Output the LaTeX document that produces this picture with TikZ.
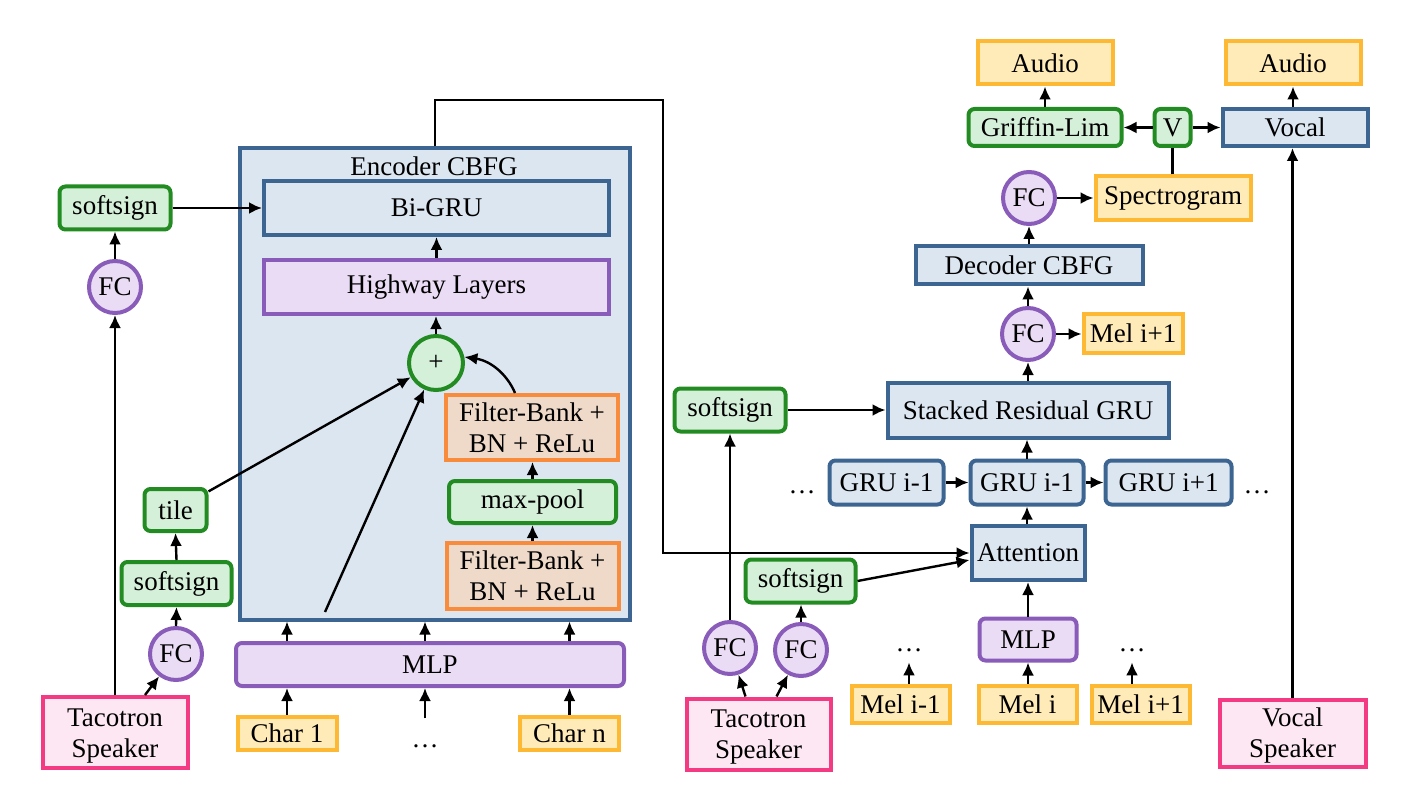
\documentclass[tikz,border=0pt]{standalone}
\usepackage{fontspec}
\setmainfont{Liberation Serif}
\usetikzlibrary{arrows.meta,calc}
\newcommand\diafont{\fontsize{27}{32}\selectfont}
\newcommand\twol[2]{\raisebox{-3pt}[\height][\depth]{\begin{tabular}{@{}c@{}}#1\\[-1pt]#2\end{tabular}}}
\definecolor{cblue}{HTML}{3C6591}
\definecolor{fblue}{HTML}{DCE6F1}
\definecolor{cgreen}{HTML}{228B22}
\definecolor{fgreen}{HTML}{D5F0D9}
\definecolor{cpurple}{HTML}{8A5CBA}
\definecolor{fpurple}{HTML}{EADCF4}
\definecolor{corange}{HTML}{F98B3C}
\definecolor{forange}{HTML}{EFDACA}
\definecolor{cyellow}{HTML}{FDB934}
\definecolor{fyellow}{HTML}{FFEBB8}
\definecolor{cpink}{HTML}{F33A82}
\definecolor{fpink}{HTML}{FDE7F3}
\tikzset{
  base/.style={draw, line width=4pt, inner sep=0pt, font=\diafont, align=center, text=black},
  bluebox/.style={base, draw=cblue, fill=fblue},
  bluer/.style={bluebox, rounded corners=6pt},
  greenbox/.style={base, draw=cgreen, fill=fgreen, rounded corners=6pt},
  purplebox/.style={base, draw=cpurple, fill=fpurple, rounded corners=6pt},
  purplesq/.style={base, draw=cpurple, fill=fpurple},
  fcc/.style={base, circle, draw=cpurple, fill=fpurple, minimum size=52pt},
  orangebox/.style={base, draw=corange, fill=forange},
  yellowbox/.style={base, draw=cyellow, fill=fyellow},
  pinkbox/.style={base, draw=cpink, fill=fpink},
  dotsnode/.style={inner sep=0pt, outer sep=0pt, font=\diafont, anchor=base},
  arr/.style={-{Latex[length=13pt,width=12pt]}, line width=2.4pt},
  ln/.style={line width=2.4pt},
}
\begin{document}
\begin{tikzpicture}[x=1pt,y=-1pt]
\useasboundingbox (0,0) rectangle (1423,799);

% ---------------- Left: encoder ----------------
\node[bluebox, minimum width=390, minimum height=471] (enc) at (435,384) {};
\node[font=\diafont, inner sep=0pt] (enctitle) at (434,166) {Encoder CBFG};
\node[bluebox, minimum width=345, minimum height=54] (bigru) at (436.5,208) {Bi-GRU};
\node[purplesq, minimum width=345, minimum height=54] (highway) at (436.5,287) {Highway Layers};
\node[base, circle, draw=cgreen, fill=fgreen, minimum size=54pt] (plus) at (436,363) {+};
\node[orangebox, minimum width=172, minimum height=65] (fb1) at (532,427.5) {\twol{Filter-Bank +}{BN + ReLu}};
\node[greenbox, minimum width=167, minimum height=42] (maxpool) at (532.5,502) {max-pool};
\node[orangebox, minimum width=172, minimum height=66] (fb2) at (532.5,576) {\twol{Filter-Bank +}{BN + ReLu}};
\node[purplebox, minimum width=388, minimum height=43] (mlp) at (430,664.5) {MLP};
\node[yellowbox, minimum width=99, minimum height=33] (char1) at (287,733) {Char 1};
\node[dotsnode] (dots1) at (425,747) {\dots};
\node[yellowbox, minimum width=99, minimum height=33] (charn) at (569.5,733) {Char n};

\node[greenbox, minimum width=62, minimum height=42] (tile) at (175.5,510) {tile};
\node[greenbox, minimum width=110, minimum height=43] (ssL2) at (176.5,583.5) {softsign};
\node[fcc] (fcL2) at (176,654) {FC};
\node[pinkbox, minimum width=145, minimum height=71] (tacoL) at (115,732.5) {\twol{Tacotron}{Speaker}};
\node[fcc] (fcL1) at (115,287) {FC};
\node[greenbox, minimum width=111, minimum height=43] (ssL1) at (115,208) {softsign};

\coordinate (skip) at (325,612);
\coordinate (turn) at (663,100);

% left connectors
\draw[arr] (ssL1.east) -- (bigru.west |- ssL1.east);
\draw[arr] (fcL1.north) -- (ssL1.south);
\draw[arr] (tacoL.north) -- (fcL1.south);
\draw[arr] ($(tacoL.north)+(30,0)$) -- (fcL2);
\draw[arr] (fcL2.north) -- (ssL2.south);
\draw[arr] (ssL2.north) -- (tile.south);
\draw[arr] (tile) -- (plus);
\draw[arr] (skip) -- (plus);
\draw[arr] (fb1.north -| 515,0) .. controls (508,376) and (492,361) .. (plus.12);
\draw[arr] (maxpool.north) -- (fb1.south -| maxpool.north);
\draw[arr] (fb2.north) -- (maxpool.south -| fb2.north);
\draw[arr] (plus.north) -- (highway.south -| plus.north);
\draw[arr] (highway.north) -- (bigru.south);
\draw[arr] (char1.north) -- (mlp.south -| char1.north);
\draw[arr] ($(dots1.south)+(0,-29)$) -- (mlp.south -| dots1.south);
\draw[arr] (charn.north) -- (mlp.south -| charn.north);
\draw[arr] (mlp.north -| char1.north) -- (enc.south -| char1.north);
\draw[arr] (mlp.north -| dots1.south) -- (enc.south -| dots1.south);
\draw[arr] (mlp.north -| charn.north) -- (enc.south -| charn.north);

% ---------------- Right: decoder ----------------
\node[bluebox, minimum width=113, minimum height=54] (att) at (1028,553) {Attention};
\node[greenbox, minimum width=110, minimum height=43] (ssR2) at (800.5,581) {softsign};
\node[greenbox, minimum width=111, minimum height=43] (ssR1) at (730,410) {softsign};
\node[fcc] (fcR1) at (730,648) {FC};
\node[fcc] (fcR2) at (801,650) {FC};
\node[pinkbox, minimum width=144, minimum height=71] (tacoR) at (758.5,734) {\twol{Tacotron}{Speaker}};
\node[bluebox, minimum width=281, minimum height=55] (stacked) at (1028,410) {Stacked Residual GRU};
\node[bluer, minimum width=114, minimum height=44] (gruA) at (886.5,482.5) {GRU i-1};
\node[bluer, minimum width=113, minimum height=44] (gruB) at (1027,482.5) {GRU i-1};
\node[bluer, minimum width=126, minimum height=44] (gruC) at (1168.5,482.5) {GRU i+1};
\node[dotsnode] (dotsL) at (802,493) {\dots};
\node[dotsnode] (dotsR) at (1257,493) {\dots};
\node[purplebox, minimum width=97, minimum height=42] (mlpR) at (1028,639.5) {MLP};
\node[yellowbox, minimum width=98, minimum height=37] (melA) at (900.5,704) {Mel i-1};
\node[yellowbox, minimum width=98, minimum height=37] (melB) at (1027.5,704) {Mel i};
\node[yellowbox, minimum width=98, minimum height=37] (melC) at (1140.5,704) {Mel i+1};
\node[dotsnode] (dotsA) at (909,651) {\dots};
\node[dotsnode] (dotsC) at (1132,651) {\dots};

\node[fcc] (fcMel) at (1028,334) {FC};
\node[yellowbox, minimum width=99, minimum height=38] (melUp) at (1133,333.5) {Mel i+1};
\node[bluebox, minimum width=227, minimum height=38] (dec) at (1029,265.5) {Decoder CBFG};
\node[fcc] (fcTop) at (1029,198) {FC};
\node[yellowbox, minimum width=155, minimum height=44] (spec) at (1173,198.5) {Spectrogram};
\node[greenbox, minimum width=36, minimum height=37] (V) at (1172.5,127.5) {V};
\node[greenbox, minimum width=153, minimum height=37] (griffin) at (1045,127.5) {Griffin-Lim};
\node[bluebox, minimum width=145, minimum height=37] (vocal) at (1295,127.5) {Vocal};
\node[yellowbox, minimum width=135, minimum height=43] (audioL) at (1045,63) {Audio};
\node[yellowbox, minimum width=135, minimum height=43] (audioR) at (1293,63) {Audio};
\node[pinkbox, minimum width=146, minimum height=67] (vocalSp) at (1292.5,733) {\twol{Vocal}{Speaker}};

% right connectors
\draw[arr] (enc.north) |- (turn) |- (att.west);
\draw[arr] (ssR2.east) -- ($(att.west)+(0,7)$);
\draw[arr] ($(tacoR.north)+(-13,0)$) -- (fcR1);
\draw[arr] ($(tacoR.north)+(18,0)$) -- (fcR2);
\draw[arr] (fcR1.north) -- (ssR1.south);
\draw[arr] (fcR2.north) -- (ssR2.south -| fcR2.north);
\draw[arr] (ssR1.east) -- (stacked.west |- ssR1.east);
\draw[arr] (gruA.east) -- (gruB.west);
\draw[arr] (gruB.east) -- (gruC.west);
\draw[arr] (att.north -| gruB.south) -- (gruB.south);
\draw[arr] (gruB.north) -- (stacked.south -| gruB.north);
\draw[arr] (mlpR.north) -- (att.south -| mlpR.north);
\draw[arr] (melB.north -| mlpR.south) -- (mlpR.south);
\draw[arr] (melA.north -| dotsA.south) -- ($(dotsA.south)+(0,11)$);
\draw[arr] (melC.north -| dotsC.south) -- ($(dotsC.south)+(0,11)$);
\draw[arr] (stacked.north -| fcMel.south) -- (fcMel.south);
\draw[arr] (fcMel.east) -- (melUp.west |- fcMel.east);
\draw[arr] (fcMel.north) -- (dec.south -| fcMel.north);
\draw[arr] (dec.north -| fcTop.south) -- (fcTop.south);
\draw[arr] (fcTop.east) -- (spec.west |- fcTop.east);
\draw[ln] (spec.north -| V.south) -- (V.south);
\draw[arr] (V.west) -- (griffin.east);
\draw[arr] (V.east) -- (vocal.west);
\draw[arr] (griffin.north) -- (audioL.south);
\draw[arr] (vocal.north -| audioR.south) -- (audioR.south);
\draw[arr] (vocalSp.north) -- (vocal.south -| vocalSp.north);
\end{tikzpicture}
\end{document}
